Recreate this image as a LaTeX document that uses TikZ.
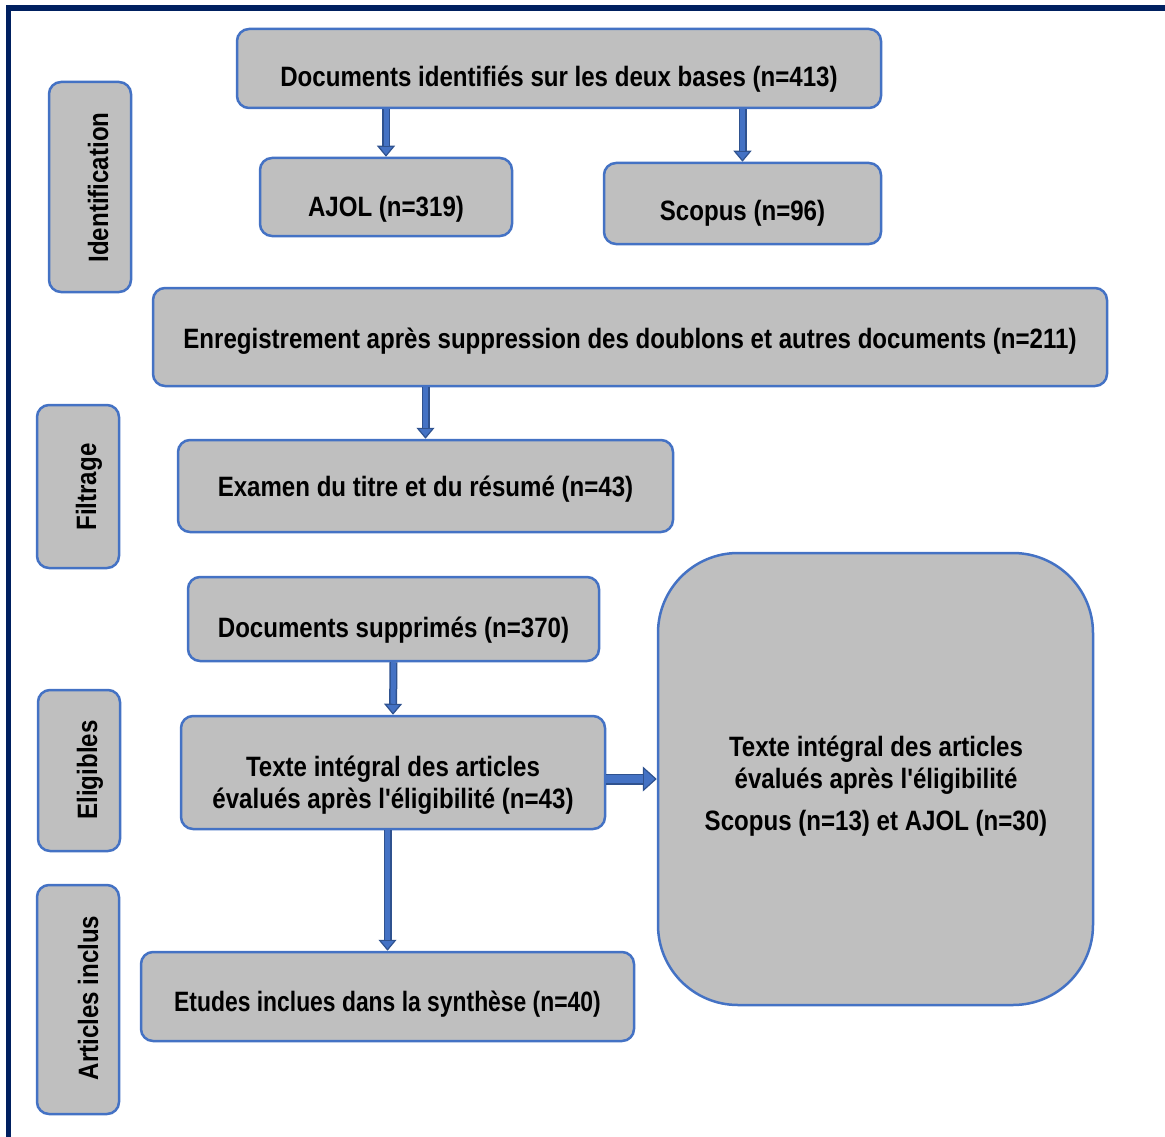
\documentclass[tikz,border=0pt]{standalone}
\usepackage{fontspec}
\setmainfont[FakeStretch=0.86, Ligatures=TeXOff]{Liberation Sans}
\usetikzlibrary{arrows.meta}
\definecolor{boxfill}{HTML}{BFBFBF}
\definecolor{boxline}{HTML}{4472C4}
\definecolor{arrowfill}{HTML}{4472C4}
\definecolor{arrowdark}{HTML}{2F528F}
\definecolor{framecol}{HTML}{002060}
\begin{document}
\begin{tikzpicture}[x=1pt,y=-1pt,
  box/.style={draw=boxline, fill=boxfill, line width=2.5pt, rounded corners=12pt, inner sep=0pt},
  txt/.style={font=\fontsize{28}{32}\selectfont\bfseries, align=center, inner sep=0pt, anchor=base},
  vtxt/.style={txt, rotate=90},
  downarrow/.style={draw=arrowdark, line width=8pt,
    -{Triangle[width=18pt,length=11pt,fill=arrowfill,line width=1.2pt]},
    postaction={draw=arrowfill, line width=5pt, -, shorten >=11pt}},
  rightarrow/.style={draw=arrowdark, line width=11pt,
    -{Triangle[width=25pt,length=14pt,fill=arrowfill,line width=1.2pt]},
    postaction={draw=arrowfill, line width=8pt, -, shorten >=14pt}}
]
\useasboundingbox (0,0) rectangle (1165,1137);
\draw[framecol, line width=5.5pt] (8.5,1160) -- (8.5,8) -- (1180,8);

% phase labels
\node[box, minimum width=82pt, minimum height=210pt] (ident) at (90,187) {};
\node[vtxt] (identt) at (108,187.5) {Identification};
\node[box, minimum width=82pt, minimum height=163pt] (filt) at (78,486.5) {};
\node[vtxt] (filtt) at (96,487) {Filtrage};
\node[box, minimum width=82pt, minimum height=161pt] (elig) at (79,770.5) {};
\node[vtxt] (eligt) at (97,770) {Eligibles};
\node[box, minimum width=82pt, minimum height=229pt] (art) at (78,999.5) {};
\node[vtxt] (artt) at (98,998) {Articles inclus};

% main boxes
\node[box, minimum width=644pt, minimum height=79pt] (b1) at (559,68.5) {};
\node[txt] (b1t) at (559,86.7) {Documents identifiés sur les deux bases (n=413)};
\node[box, minimum width=252pt, minimum height=78pt] (ajol) at (386,197) {};
\node[txt] (ajolt) at (386,216) {AJOL (n=319)};
\node[box, minimum width=277pt, minimum height=81pt] (scop) at (742.5,203.5) {};
\node[txt] (scopt) at (742.5,220.5) {Scopus (n=96)};
\node[box, minimum width=954pt, minimum height=98pt] (enr) at (630,337) {};
\node[txt] (enrt) at (630,348) {Enregistrement après suppression des doublons et autres documents (n=211)};
\node[box, minimum width=495pt, minimum height=92pt] (exam) at (425.5,486) {};
\node[txt] (examt) at (425.5,496) {Examen du titre et du résumé (n=43)};
\node[box, minimum width=411pt, minimum height=84pt] (supp) at (393.5,619) {};
\node[txt] (suppt) at (393.5,637) {Documents supprimés (n=370)};
\node[box, minimum width=424pt, minimum height=113pt] (texte) at (393,772.5) {};
\node[txt] (textet) at (393,808) {Texte intégral des articles\\évalués après l'éligibilité (n=43)};
\node[box, rounded corners=80pt, minimum width=435pt, minimum height=452pt] (big) at (875.5,779) {};
\node[txt] (bigt) at (876,830) {Texte intégral des articles\\évalués après l'éligibilité\\[10pt]Scopus (n=13) et AJOL (n=30)};
\node[box, minimum width=493pt, minimum height=89pt] (etud) at (387.5,996.5) {};
\node[txt, xscale=0.95] (etudt) at (387.5,1011) {Etudes inclues dans la synthèse (n=40)};

% connectors
\draw[downarrow] (b1.south -| ajol.north) -- (ajol.north);
\draw[downarrow] (b1.south -| scop.north) -- (scop.north);
\draw[downarrow] (enr.south -| exam.north) -- (exam.north);
\draw[downarrow] (supp.south) -- (texte.north);
\draw[downarrow] (texte.south -| etud.north) -- (etud.north);
\draw[rightarrow] (texte.east |- big.west) -- (big.west);
\end{tikzpicture}
\end{document}
